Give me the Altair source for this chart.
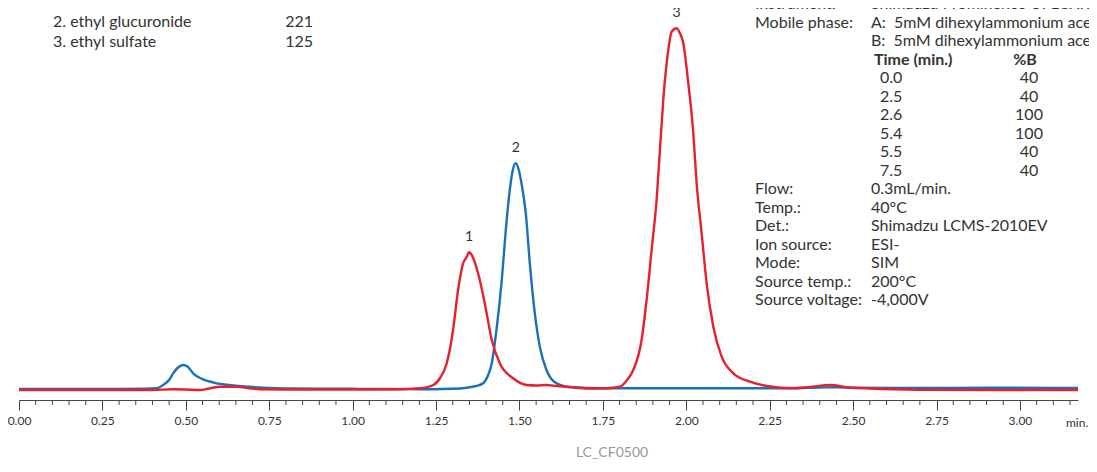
import altair as alt
import pandas as pd

# ---------------- data ----------------
blue_t = [0.00, 0.10, 0.20, 0.30, 0.38, 0.413, 0.432, 0.452, 0.462, 0.475, 0.492, 0.505, 0.522,
          0.537, 0.552, 0.572, 0.592, 0.62, 0.652, 0.69, 0.732, 0.80, 0.90, 1.00, 1.10, 1.20,
          1.24, 1.30, 1.342, 1.37, 1.391, 1.405, 1.417, 1.431, 1.447, 1.459, 1.471, 1.480,
          1.489, 1.498, 1.506, 1.519, 1.531, 1.546, 1.561, 1.581, 1.611, 1.66, 1.75, 1.90,
          2.10, 2.30, 2.40, 2.45, 2.50, 2.70, 2.90, 3.10, 3.174]
blue_v = [1.0, 1.0, 1.0, 1.0, 1.2, 1.7, 5.0, 11.0, 16.7, 22.0, 25.0, 23.5, 16.7,
          13.0, 10.7, 8.5, 6.7, 5.3, 4.3, 3.2, 2.3, 1.5, 1.3, 1.2, 1.0, 0.8,
          0.8, 1.2, 2.3, 4.0, 6.7, 14.0, 26.7, 60.0, 110.0, 160.0, 200.0, 220.0,
          226.7, 220.0, 206.7, 176.7, 126.7, 76.7, 43.3, 20.0, 6.7, 2.7, 1.8, 1.7,
          1.7, 1.8, 2.5, 2.8, 2.3, 2.0, 2.3, 2.0, 2.0]

red_t = [0.00, 0.20, 0.40, 0.462, 0.50, 0.542, 0.57, 0.602, 0.652, 0.69, 0.722, 0.80, 1.00,
         1.15, 1.202, 1.242, 1.262, 1.282, 1.301, 1.316, 1.331, 1.342, 1.349, 1.357, 1.376,
         1.396, 1.417, 1.441, 1.481, 1.521, 1.55, 1.58, 1.611, 1.66, 1.70, 1.761, 1.801,
         1.82, 1.841, 1.866, 1.881, 1.896, 1.911, 1.921, 1.931, 1.946, 1.956, 1.971, 1.981,
         1.991, 2.006, 2.021, 2.031, 2.046, 2.061, 2.081, 2.106, 2.141, 2.191, 2.241, 2.32,
         2.37, 2.43, 2.49, 2.55, 2.70, 2.90, 3.10, 3.174]
red_v = [0.0, 0.0, 0.0, 0.7, 0.5, 0.0, 1.5, 3.3, 3.3, 1.8, 0.7, 0.5, 0.5,
         0.8, 1.7, 5.0, 12.0, 26.7, 60.0, 100.0, 126.7, 133.0, 137.7, 135.0, 116.7,
         86.7, 50.0, 26.7, 11.7, 5.0, 4.5, 5.0, 4.0, 2.7, 1.5, 1.7, 3.3,
         9.0, 20.0, 50.0, 90.0, 140.0, 190.0, 240.0, 290.0, 340.0, 358.3, 361.7, 356.7,
         346.7, 306.7, 256.7, 206.7, 156.7, 106.7, 63.3, 33.3, 16.7, 8.3, 4.0, 1.7,
         3.0, 5.0, 2.5, 1.5, 0.3, 0.0, 0.0, 0.0]

peak_labels = ["1", "2", "3"]
peak_t = [1.349, 1.489, 1.971]
peak_v = [137.7, 226.7, 361.7]

major_ticks = [0.0, 0.25, 0.5, 0.75, 1.0, 1.25, 1.5, 1.75, 2.0, 2.25, 2.5, 2.75, 3.0]
minor_ticks = [0.05, 0.10, 0.15, 0.20, 0.30, 0.35, 0.40, 0.45, 0.55, 0.60, 0.65, 0.70,
               0.80, 0.85, 0.90, 0.95, 1.05, 1.10, 1.15, 1.20, 1.30, 1.35, 1.40, 1.45,
               1.55, 1.60, 1.65, 1.70, 1.80, 1.85, 1.90, 1.95, 2.05, 2.10, 2.15, 2.20,
               2.30, 2.35, 2.40, 2.45, 2.55, 2.60, 2.65, 2.70, 2.80, 2.85, 2.90, 2.95,
               3.05, 3.10, 3.15]

compound_names = ["1. matrix", "2. ethyl glucuronide", "3. ethyl sulfate"]
compound_mz = ["125", "221", "125"]

cond_labels_top = ["Instrument:", "Mobile phase:"]
cond_values_top = ["Shimadzu Prominence UFLCXR",
                   "A:\u00a0\u00a05mM dihexylammonium acetate in water",
                   "B:\u00a0\u00a05mM dihexylammonium acetate in methanol"]
grad_time = ["0.0", "2.5", "2.6", "5.4", "5.5", "7.5"]
grad_b = ["40", "40", "100", "100", "40", "40"]
cond_labels_bottom = ["Flow:", "Temp.:", "Det.:", "Ion source:", "Mode:",
                      "Source temp.:", "Source voltage:"]
cond_values_bottom = ["0.3mL/min.", "40°C", "Shimadzu LCMS-2010EV", "ESI-", "SIM",
                      "200°C", "-4,000V"]

footer = "LC_CF0500"
x_unit = "min."

# ---------------- layout ----------------
W, H = 1059, 390
FONT = "Lato, Roboto, sans-serif"
TXT = "#333333"
RED = "#e6202c"
BLUE = "#1b71b9"

xscale = alt.Scale(domain=[0, 3.174], nice=False, zero=False)
yscale = alt.Scale(domain=[-10, 380], nice=False, zero=False)

xaxis = alt.Axis(values=major_ticks, format=".2f", tickSize=10, labelFontSize=12,
                 labelFont=FONT, labelColor=TXT, domainColor="#444444",
                 tickColor="#444444", domainWidth=1, tickWidth=1, labelPadding=5,
                 labelFlush=False, grid=False, title=None)

blue_line = alt.Chart(pd.DataFrame({"t": blue_t, "v": blue_v})).mark_line(
    color=BLUE, strokeWidth=2.4, interpolate="monotone", clip=True
).encode(x=alt.X("t:Q", scale=xscale, axis=xaxis),
         y=alt.Y("v:Q", scale=yscale, axis=None))

red_line = alt.Chart(pd.DataFrame({"t": red_t, "v": red_v})).mark_line(
    color=RED, strokeWidth=2.4, interpolate="monotone", clip=True
).encode(x=alt.X("t:Q", scale=xscale),
         y=alt.Y("v:Q", scale=yscale))

minor = alt.Chart(pd.DataFrame({"t": minor_ticks})).mark_rule(
    color="#444444", strokeWidth=1
).encode(x=alt.X("t:Q", scale=xscale), y=alt.value(H), y2=alt.value(H + 5))

peaks = alt.Chart(pd.DataFrame({"t": peak_t, "v": peak_v, "l": peak_labels})).mark_text(
    font=FONT, fontSize=14, color=TXT, baseline="alphabetic", align="center", dy=-11
).encode(x=alt.X("t:Q", scale=xscale), y=alt.Y("v:Q", scale=yscale), text="l:N")


def block(lines, x, y, align="left", size=16, weight="normal", color=TXT, lh=18.5):
    return alt.Chart(pd.DataFrame({"txt": ["\n".join(lines)]})).mark_text(
        font=FONT, fontSize=size, fontWeight=weight, color=color, align=align,
        baseline="alphabetic", lineBreak="\n", lineHeight=lh
    ).encode(x=alt.value(x), y=alt.value(y), text="txt:N")


ROW0 = -1  # baseline of first condition row (plot coords)
LH = 18.5
texts = [
    block(compound_names, 34, -2, lh=19.4),
    block(compound_mz, 294, -2, align="right", lh=19.4),
    block(cond_labels_top, 736, ROW0, lh=LH),
    block(cond_values_top, 852, ROW0, lh=LH),
    block(["Time (min.)"], 855, ROW0 + 3 * LH, weight="bold"),
    block(["%B"], 1006, ROW0 + 3 * LH, align="center", weight="bold"),
    block(grad_time, 861, ROW0 + 4 * LH, lh=LH),
    block(grad_b, 1010, ROW0 + 4 * LH, align="center", lh=LH),
    block(cond_labels_bottom, 736, ROW0 + 10 * LH, lh=LH),
    block(cond_values_bottom, 852, ROW0 + 10 * LH, lh=LH),
    block([x_unit], 1047, 416.5, size=12),
    block([footer], 593, 447, align="center", size=14, color="#999999"),
]

chart = alt.layer(minor, blue_line, red_line, peaks, *texts).properties(
    width=W, height=H,
    padding={"left": 11, "top": 2, "right": 11, "bottom": 60},
    autosize=alt.AutoSizeParams(type="none"),
).configure_view(strokeWidth=0)

chart.save("out.html", embed_options={"renderer": "svg", "actions": False})
